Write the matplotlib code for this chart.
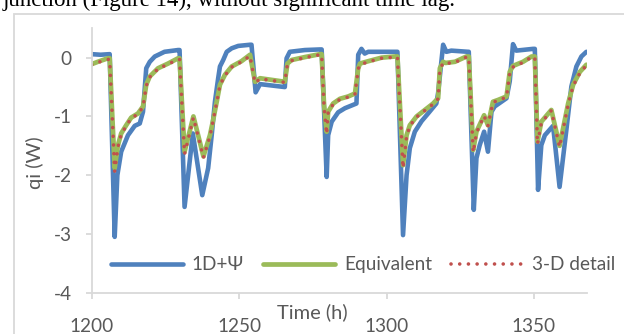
import matplotlib
matplotlib.use("Agg")
import matplotlib.pyplot as plt
from matplotlib.patches import Rectangle

# heat flow qi over time for the three models
t_1d = [1200.0, 1203.0, 1206.1, 1207.8, 1208.7, 1210.0, 1212.3, 1214.6, 1216.3,
        1217.4, 1218.5, 1219.7, 1221.4, 1224.7, 1229.3, 1229.8, 1231.5, 1234.3,
        1237.5, 1239.5, 1240.7, 1241.8, 1242.9, 1243.5, 1244.6, 1245.8, 1247.5,
        1249.7, 1253.7, 1254.2, 1255.6, 1257.1, 1265.5, 1266.1, 1267.2, 1272.3,
        1277.4, 1278.0, 1279.7, 1280.2, 1281.4, 1283.6, 1285.9, 1289.8, 1290.4,
        1291.5, 1292.6, 1293.8, 1303.4, 1303.7, 1305.6, 1306.8, 1307.9, 1309.6,
        1311.9, 1314.1, 1316.9, 1317.5, 1319.2, 1320.3, 1322.0, 1327.7, 1327.9,
        1329.6, 1330.5, 1331.6, 1333.1, 1334.4, 1335.6, 1336.7, 1340.7, 1341.8,
        1342.9, 1344.0, 1349.7, 1350.3, 1351.4, 1352.5, 1353.7, 1356.5, 1358.7,
        1361.0, 1362.7, 1364.4, 1366.1, 1367.8]
q_1d = [0.06, 0.05, 0.06, -3.05, -2.00, -1.60, -1.32, -1.16, -1.12,
        -0.92, -0.18, -0.07, 0.02, 0.10, 0.13, 0.13, -2.54, -1.29,
        -2.34, -1.88, -1.32, -0.75, -0.35, -0.15, -0.04, 0.10, 0.16,
        0.20, 0.22, 0.22, -0.59, -0.45, -0.50, -0.01, 0.10, 0.13,
        0.14, 0.14, -2.03, -1.32, -1.09, -0.93, -0.86, -0.78, 0.05,
        0.15, 0.07, 0.10, 0.10, 0.10, -3.02, -2.00, -1.54, -1.26,
        -1.08, -0.95, -0.78, -0.60, 0.22, 0.10, 0.12, 0.10, 0.10,
        -2.59, -1.71, -1.49, -1.26, -1.60, -0.92, -0.83, -0.69, -0.40,
        0.23, 0.12, 0.15, 0.15, -2.25, -1.49, -1.32, -1.16, -2.20,
        -1.23, -0.49, -0.15, 0.02, 0.10]

t_eq = [1200.0, 1202.1, 1205.5, 1206.1, 1206.9, 1207.8, 1208.9, 1210.0, 1211.7,
        1213.4, 1215.7, 1217.4, 1218.5, 1219.7, 1222.5, 1225.9, 1229.3, 1229.8,
        1231.5, 1234.5, 1237.9, 1240.1, 1241.2, 1242.4, 1243.5, 1245.2, 1247.5,
        1250.8, 1253.7, 1255.4, 1257.1, 1265.5, 1266.4, 1267.8, 1272.3, 1277.4,
        1278.0, 1278.8, 1279.7, 1280.2, 1281.9, 1284.2, 1287.0, 1289.3, 1290.4,
        1291.0, 1293.8, 1298.3, 1302.8, 1303.7, 1305.6, 1306.8, 1307.9, 1310.2,
        1313.0, 1315.8, 1317.5, 1318.1, 1319.2, 1320.0, 1323.2, 1327.1, 1327.9,
        1329.4, 1330.5, 1333.1, 1334.4, 1336.1, 1337.8, 1340.7, 1341.8, 1342.9,
        1346.3, 1349.2, 1350.3, 1351.2, 1352.5, 1355.9, 1358.7, 1361.6, 1363.3,
        1365.6, 1367.8]
q_eq = [-0.11, -0.07, -0.01, -0.01, -0.90, -1.88, -1.49, -1.29, -1.15,
        -1.02, -0.95, -0.83, -0.46, -0.32, -0.18, -0.10, -0.01, -0.01,
        -1.60, -1.00, -1.68, -1.32, -1.06, -0.75, -0.46, -0.29, -0.15,
        -0.06, 0.05, -0.41, -0.35, -0.41, -0.10, -0.04, 0.01, 0.06,
        0.06, -0.80, -1.26, -0.92, -0.78, -0.70, -0.66, -0.61, -0.18,
        -0.10, -0.06, 0.00, 0.02, 0.02, -1.83, -1.32, -1.15, -1.00,
        -0.89, -0.78, -0.69, -0.18, -0.07, -0.09, -0.07, 0.02, 0.02,
        -1.57, -1.26, -0.98, -1.15, -0.75, -0.72, -0.66, -0.24, -0.14,
        -0.07, 0.02, 0.02, -1.43, -1.09, -0.89, -1.50, -0.78, -0.46,
        -0.24, -0.12]

t_3d = t_eq
q_3d = [-0.12, -0.08, -0.03, -0.03, -0.92, -1.93, -1.52, -1.31, -1.16,
        -1.03, -0.96, -0.84, -0.48, -0.33, -0.19, -0.11, -0.03, -0.03,
        -1.64, -1.02, -1.70, -1.34, -1.07, -0.76, -0.47, -0.30, -0.16,
        -0.07, 0.03, -0.43, -0.36, -0.42, -0.11, -0.05, 0.00, 0.05,
        0.05, -0.82, -1.30, -0.94, -0.79, -0.71, -0.67, -0.62, -0.19,
        -0.12, -0.07, -0.01, 0.01, 0.01, -1.88, -1.35, -1.16, -1.01,
        -0.90, -0.79, -0.70, -0.20, -0.09, -0.10, -0.08, 0.01, 0.01,
        -1.61, -1.28, -0.99, -1.16, -0.76, -0.73, -0.67, -0.26, -0.16,
        -0.08, 0.01, 0.01, -1.47, -1.11, -0.90, -1.52, -0.80, -0.48,
        -0.26, -0.13]

x_ticks = [1200, 1250, 1300, 1350]
y_ticks = [0, -1, -2, -3, -4]

grey_text = "#595959"
grey_line = "#D9D9D9"
font = ["Lato", "DejaVu Sans"]
fs = 13.7

plt.rcParams["font.family"] = font

W, H = 624, 334
fig = plt.figure(figsize=(W / 100, H / 100), dpi=100)

# bits of the surrounding page: caption line and chart frame
fig.text(3 / W, 1 - 6 / H, "junction (Figure 14), without significant time lag.",
         family="Liberation Serif", fontsize=16.5, va="baseline", ha="left",
         color="black")
fig.patches.append(Rectangle((14 / W, -0.2), 1.2, 1.2 - 14 / H,
                             transform=fig.transFigure, fill=False,
                             edgecolor=grey_line, linewidth=1.3))

ax = fig.add_axes([91.7 / W, 41.3 / H, (587 - 91.7) / W, (305.7 - 41.3) / H])

ax.plot(t_1d, q_1d, color="#4F81BD", lw=3.3, label="1D+Ψ",
        solid_joinstyle="round", solid_capstyle="round")
ax.plot(t_eq, q_eq, color="#9BBB59", lw=3.4, label="Equivalent",
        solid_joinstyle="round", solid_capstyle="round")
ax.plot(t_3d, q_3d, color="#C0504D", lw=2.6, linestyle=(0, (0.01, 2.4)),
        dash_capstyle="round", label="3-D detail")

ax.set_xlim(1200, 1368)
ax.set_ylim(-4, 0.5)
ax.set_xticks(x_ticks)
ax.set_yticks(y_ticks)
ax.set_xticklabels([str(v) for v in x_ticks])
ax.set_yticklabels([str(v) for v in y_ticks])

for side in ("top", "right"):
    ax.spines[side].set_visible(False)
for side in ("left", "bottom"):
    ax.spines[side].set_color(grey_line)
    ax.spines[side].set_linewidth(1.3)

ax.tick_params(axis="both", direction="out", length=4.5, width=1.3,
               color=grey_line, labelcolor=grey_text, labelsize=fs)
ax.tick_params(axis="y", pad=10)
ax.tick_params(axis="x", pad=14)

ax.set_xlabel("Time (h)", fontsize=fs + 0.8, color=grey_text, va="center")
ax.xaxis.set_label_coords((312 - 91.7) / (587 - 91.7), (22 - 41.3) / 264.4)
ax.set_ylabel("qi (W)", fontsize=fs + 0.8, color=grey_text, va="center")
ax.yaxis.set_label_coords((35 - 91.7) / (587 - 91.7), 0.49)

leg = ax.legend(loc="center", bbox_to_anchor=((363 - 91.7) / (587 - 91.7), 0.1055),
                ncol=3, frameon=False, fontsize=fs, handlelength=3.8,
                handletextpad=0.45, columnspacing=1.0, borderpad=0,
                borderaxespad=0)
for txt in leg.get_texts():
    txt.set_color(grey_text)

fig.savefig("out.png", dpi=100)
